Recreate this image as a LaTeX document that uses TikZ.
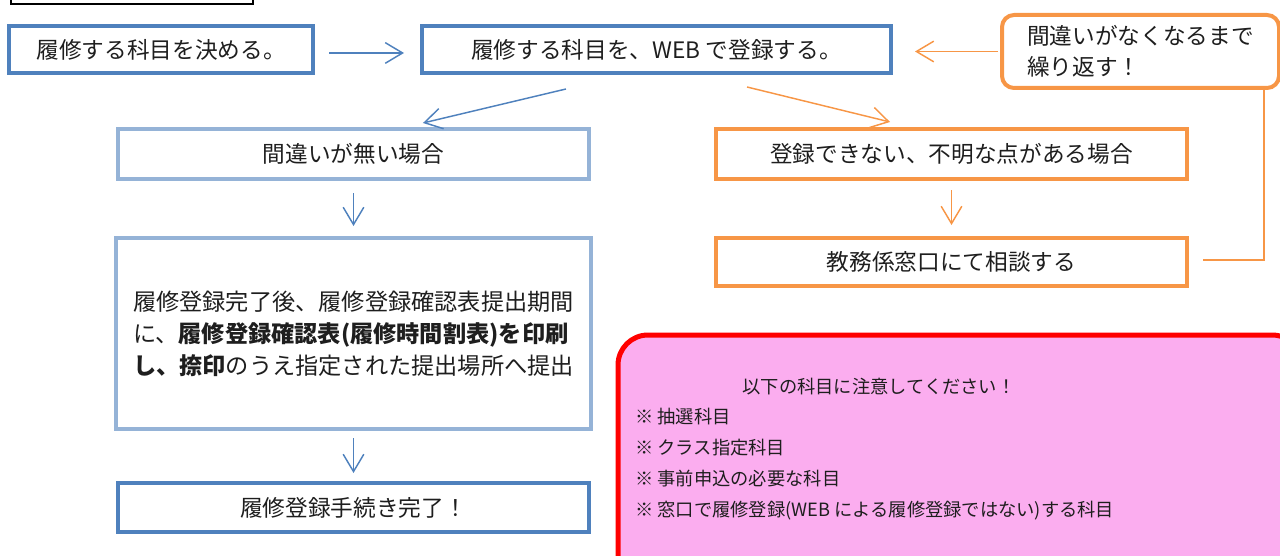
\documentclass[tikz,border=0pt]{standalone}
\usepackage{fontspec}
\setmainfont{Noto Sans CJK JP}
\usetikzlibrary{arrows.meta,calc}
\definecolor{dblue}{RGB}{79,129,189}
\definecolor{lblue}{RGB}{149,179,215}
\definecolor{orng}{RGB}{247,150,70}
\definecolor{pinkfill}{RGB}{251,173,239}
\definecolor{txt}{RGB}{30,30,30}
\begin{document}
\begin{tikzpicture}[x=0.75pt,y=-0.75pt,
  box/.style={line width=3pt, inner sep=0pt, text=txt, font=\fontsize{17pt}{22pt}\selectfont},
  bluebox/.style={box, draw=dblue},
  lbbox/.style={box, draw=lblue},
  orbox/.style={box, draw=orng},
  arr/.style={line width=1.1pt, -{Straight Barb[length=13pt,width=15.5pt,line width=1.1pt]}},
  note/.style={text=txt, font=\fontsize{13.7pt}{23.25pt}\selectfont}
]
\useasboundingbox (0,0) rectangle (1280,556);
\clip (0,0) rectangle (1280,556);

% header box (cut off)
\node[draw, line width=1.5pt, minimum width=181.5pt, minimum height=22.5pt, anchor=south west, inner sep=0pt] (hdr) at (10,5) {};

% boxes
\node[bluebox, minimum width=228pt, minimum height=35.25pt] (b1) at (161,49.5) {履修する科目を決める。};
\node[bluebox, minimum width=351.75pt, minimum height=35.25pt] (b2) at (656.5,49.5) {履修する科目を、WEB で登録する。};
\node[orbox, rounded corners=9pt, minimum width=207.75pt, minimum height=54.75pt,
      text width=170.25pt, align=left, font=\fontsize{17pt}{23pt}\selectfont] (loop) at (1140.5,51.5)
      {間違いがなくなるまで\\繰り返す！};
\node[lbbox, minimum width=353.25pt, minimum height=37.5pt] (b3) at (353.5,154) {間違いが無い場合};
\node[orbox, minimum width=353.25pt, minimum height=37.5pt] (b4) at (951.5,154) {登録できない、不明な点がある場合};
\node[orbox, minimum width=353.25pt, minimum height=36pt] (b5) at (951.5,262) {教務係窓口にて相談する};
\node[lbbox, minimum width=356.25pt, minimum height=143.25pt, text width=330.75pt, align=left,
      font=\fontsize{17.4pt}{24pt}\selectfont] (b6) at (353.5,333.5)
      {履修登録完了後、履修登録確認表提出期間\\
       に、\textbf{履修登録確認表(履修時間割表)を印刷}\\
       \textbf{し、捺印}のうえ指定された提出場所へ提出};
\node[bluebox, minimum width=353.25pt, minimum height=36.75pt] (b7) at (353.5,507.5) {履修登録手続き完了！};

% note box
\node[draw=red, fill=pinkfill, line width=3.75pt, rounded corners=22.5pt, minimum width=513pt,
      minimum height=200pt, anchor=north west, inner sep=0pt] (nb) at (615.5,332.5) {};
\node[note] (nt) at (879,387) {以下の科目に注意してください！};
\node[note, anchor=north west, align=left, inner sep=0pt] (nl) at (635,408)
  {※ 抽選科目\\※ クラス指定科目\\※ 事前申込の必要な科目\\※ 窓口で履修登録(WEB による履修登録ではない)する科目};

% connectors
\draw[arr, dblue, shorten <=10.5pt, shorten >=12pt] ([yshift=-2.6pt]b1.east) -- ([yshift=-2.6pt]b2.west);
\draw[arr, orng, shorten <=1.5pt, shorten >=16.5pt] (loop.west) -- (loop.west -| b2.east);
\draw[arr, dblue] ([xshift=-67.9pt,yshift=-10.5pt]b2.south) -- ([xshift=52.1pt,yshift=3pt]b3.north);
\draw[arr, orng] ([xshift=67.9pt,yshift=-9pt]b2.south) -- ([xshift=-46.1pt,yshift=3.75pt]b4.north);
\draw[arr, dblue, shorten <=9pt, shorten >=7.5pt] (b3.south) -- (b6.north);
\draw[arr, orng, shorten <=6.75pt, shorten >=8.25pt] (b4.south) -- (b5.north);
\draw[arr, dblue, shorten <=5.25pt, shorten >=6pt] (b6.south) -- (b7.north);
\draw[orng, line width=1.1pt, shorten <=10.5pt] ([yshift=1.5pt]b5.east) -| ([xshift=92.6pt]loop.south);
\end{tikzpicture}
\end{document}
